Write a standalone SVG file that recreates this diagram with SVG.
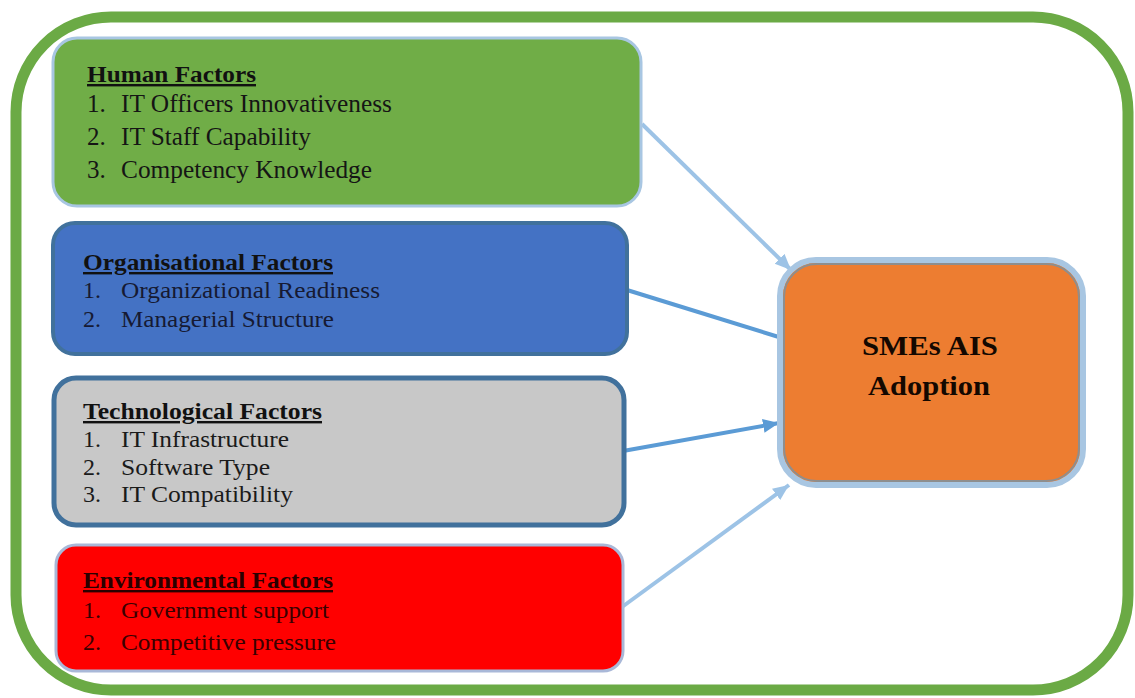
<svg xmlns="http://www.w3.org/2000/svg" width="1135" height="698" viewBox="0 0 1135 698">
<defs>
<style>
text{font-family:"Liberation Serif","Times New Roman",serif;}
.t{font-weight:bold;font-size:24px;text-decoration:underline;fill:#111;}
.i{font-size:24px;}
.h{font-size:25px;fill:#151515;}
.o{fill:#161a33;}
.k{fill:#1a1a1a;}
.e{fill:#3a0000;}
.lt{stroke:#9DC3E6;stroke-width:4;fill:none;}
.dk{stroke:#5B9BD5;stroke-width:4;fill:none;}
</style>
<marker id="aL" markerUnits="userSpaceOnUse" markerWidth="18" markerHeight="16" refX="16" refY="8" orient="auto"><path d="M0,1 L16,8 L0,15 z" fill="#9DC3E6"/></marker>
<marker id="aD" markerUnits="userSpaceOnUse" markerWidth="18" markerHeight="16" refX="16" refY="8" orient="auto"><path d="M0,1 L16,8 L0,15 z" fill="#5B9BD5"/></marker>
</defs>
<rect width="1135" height="698" fill="#fff"/>
<rect id="frame" x="16" y="17" width="1112" height="673" rx="95" fill="none" stroke="#6BAA45" stroke-width="11"/>
<g id="connectors">
<line class="lt" x1="642" y1="124" x2="791" y2="270" marker-end="url(#aL)"/>
<line class="dk" x1="627" y1="290" x2="782" y2="338"/>
<line class="dk" x1="623" y1="451" x2="779" y2="423" marker-end="url(#aD)"/>
<line class="lt" x1="622" y1="607" x2="789" y2="485" marker-end="url(#aL)"/>
</g>
<g id="human">
<rect x="53" y="38" width="588" height="168" rx="24" fill="#70AD47" stroke="#A8C6E2" stroke-width="3"/>
<text class="t" x="87" y="82" textLength="169" lengthAdjust="spacingAndGlyphs">Human Factors</text>
<text class="i h" x="87" y="112">1.</text><text class="i h" x="121" y="112" textLength="271" lengthAdjust="spacingAndGlyphs">IT Officers Innovativeness</text>
<text class="i h" x="87" y="145">2.</text><text class="i h" x="121" y="145" textLength="190" lengthAdjust="spacingAndGlyphs">IT Staff Capability</text>
<text class="i h" x="87" y="178">3.</text><text class="i h" x="121" y="178" textLength="251" lengthAdjust="spacingAndGlyphs">Competency Knowledge</text>
</g>
<g id="organisational">
<rect x="53" y="223" width="574" height="131" rx="22" fill="#4472C4" stroke="#41719C" stroke-width="4"/>
<text class="t" x="83" y="270" textLength="250" lengthAdjust="spacingAndGlyphs">Organisational Factors</text>
<text class="i o" x="83" y="298">1.</text><text class="i o" x="121" y="298" textLength="259" lengthAdjust="spacingAndGlyphs">Organizational Readiness</text>
<text class="i o" x="83" y="327">2.</text><text class="i o" x="121" y="327" textLength="213" lengthAdjust="spacingAndGlyphs">Managerial Structure</text>
</g>
<g id="technological">
<rect x="54" y="378" width="570" height="147" rx="22" fill="#C8C8C8" stroke="#41719C" stroke-width="5"/>
<text class="t" x="83" y="419" textLength="239" lengthAdjust="spacingAndGlyphs">Technological Factors</text>
<text class="i k" x="83" y="447">1.</text><text class="i k" x="121" y="447" textLength="168" lengthAdjust="spacingAndGlyphs">IT Infrastructure</text>
<text class="i k" x="83" y="475">2.</text><text class="i k" x="121" y="475" textLength="149" lengthAdjust="spacingAndGlyphs">Software Type</text>
<text class="i k" x="83" y="502">3.</text><text class="i k" x="121" y="502" textLength="172" lengthAdjust="spacingAndGlyphs">IT Compatibility</text>
</g>
<g id="environmental">
<rect x="56" y="545" width="567" height="126" rx="20" fill="#FF0000" stroke="#A9B8D8" stroke-width="3"/>
<text class="t" x="83" y="588" textLength="250" lengthAdjust="spacingAndGlyphs" style="fill:#2a0000">Environmental Factors</text>
<text class="i e" x="83" y="618">1.</text><text class="i e" x="121" y="618" textLength="208" lengthAdjust="spacingAndGlyphs">Government support</text>
<text class="i e" x="83" y="650">2.</text><text class="i e" x="121" y="650" textLength="215" lengthAdjust="spacingAndGlyphs">Competitive pressure</text>
</g>
<g id="sme">
<rect x="780" y="260" width="303" height="225" rx="36" fill="#ED7D31" stroke="#A8C6E2" stroke-width="6"/>
<rect x="784" y="264" width="295" height="217" rx="33" fill="none" stroke="#8E8E8E" stroke-width="2"/>
<text x="930" y="355" text-anchor="middle" font-weight="bold" font-size="27" fill="#140800" textLength="136" lengthAdjust="spacingAndGlyphs">SMEs AIS</text>
<text x="929" y="395" text-anchor="middle" font-weight="bold" font-size="27" fill="#140800" textLength="122" lengthAdjust="spacingAndGlyphs">Adoption</text>
</g>
</svg>
